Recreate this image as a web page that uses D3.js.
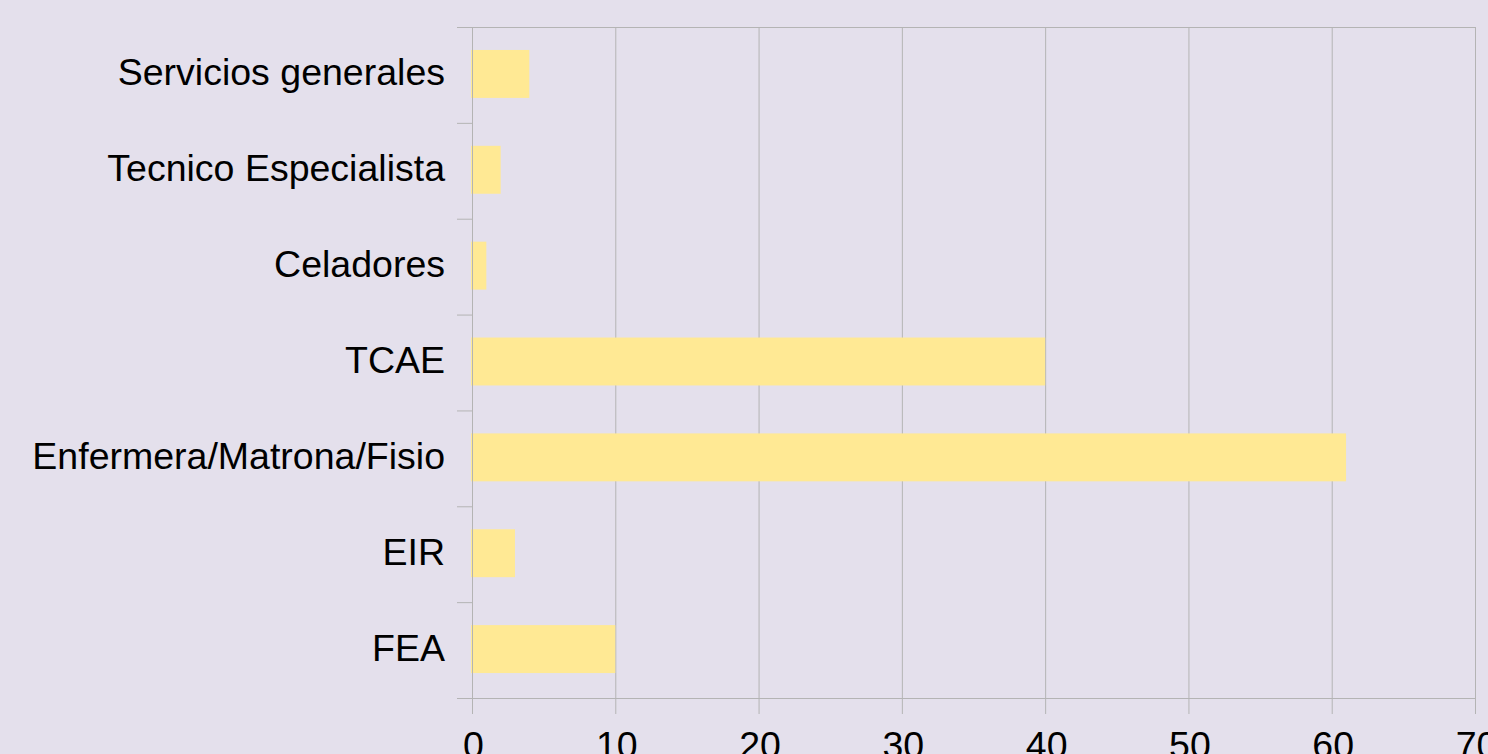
<!DOCTYPE html>
<html>
<head>
<meta charset="utf-8">
<script src="https://d3js.org/d3.v7.min.js"></script>
<style>
  html, body { margin: 0; padding: 0; background: #e4e0ec; overflow: hidden; }
  svg { display: block; }
</style>
</head>
<body>
<svg id="drawing_region"></svg>
<script>
// categories listed from top to bottom
const categories = ['Servicios generales', 'Tecnico Especialista', 'Celadores', 'TCAE',
                    'Enfermera/Matrona/Fisio', 'EIR', 'FEA'];
const values = [4, 2, 1, 40, 61, 3, 10];
const xTicks = [0, 10, 20, 30, 40, 50, 60, 70];

const data = categories.map((c, i) => ({ label: c, value: values[i] }));

const width = 1488, height = 754;
const margin = { top: 27, right: 13, bottom: 56, left: 472 };
const innerW = width - margin.left - margin.right;
const innerH = height - margin.top - margin.bottom;
const gridColor = '#b4b4b4';
const fontFamily = 'Arial, "Liberation Sans", sans-serif';

const svg = d3.select('#drawing_region')
    .attr('width', width)
    .attr('height', height);

svg.append('rect')
    .attr('width', width)
    .attr('height', height)
    .attr('fill', '#e4e0ec');

const chart = svg.append('g')
    .attr('transform', `translate(${margin.left}, ${margin.top})`);

const xscale = d3.scaleLinear()
    .domain([0, 70])
    .range([0, innerW]);

const yscale = d3.scaleBand()
    .domain(categories)
    .range([0, innerH])
    .padding(0);

// vertical grid lines
chart.append('g')
    .selectAll('line')
    .data(xTicks)
    .join('line')
    .attr('x1', d => xscale(d) + 0.5)
    .attr('x2', d => xscale(d) + 0.5)
    .attr('y1', 0)
    .attr('y2', innerH + 16)
    .attr('stroke', gridColor)
    .attr('stroke-width', 1);

// top border
chart.append('line')
    .attr('x1', -15).attr('x2', innerW + 0.5)
    .attr('y1', 0.5).attr('y2', 0.5)
    .attr('stroke', gridColor);

// bars
const barH = yscale.bandwidth() * 0.5;
chart.selectAll('rect.bar')
    .data(data)
    .join('rect')
    .attr('class', 'bar')
    .attr('x', -1)
    .attr('y', d => yscale(d.label) + (yscale.bandwidth() - barH) / 2 - 1)
    .attr('width', d => xscale(d.value) + 1)
    .attr('height', barH)
    .attr('fill', '#ffe994');

// y axis: tick marks at band boundaries
const boundaries = categories.map(c => yscale(c)).concat([innerH]);
chart.append('g')
    .selectAll('line')
    .data(boundaries)
    .join('line')
    .attr('x1', -15).attr('x2', 0)
    .attr('y1', d => d + 0.5).attr('y2', d => d + 0.5)
    .attr('stroke', gridColor);

chart.append('line')
    .attr('x1', 0.5).attr('x2', 0.5)
    .attr('y1', 0).attr('y2', innerH)
    .attr('stroke', gridColor);

const yaxis = d3.axisLeft(yscale).tickSize(0).tickPadding(27);
const yaxis_group = chart.append('g').call(yaxis);
yaxis_group.select('.domain').remove();
yaxis_group.selectAll('text')
    .attr('font-family', fontFamily)
    .attr('font-size', 37.5)
    .attr('fill', '#000')
    .attr('dy', '0.28em');

// x axis
const xaxis = d3.axisBottom(xscale).tickValues(xTicks).tickSize(0).tickPadding(33);
const xaxis_group = chart.append('g')
    .attr('transform', `translate(0, ${innerH})`)
    .call(xaxis);
xaxis_group.select('.domain').remove();
xaxis_group.selectAll('text')
    .attr('font-family', fontFamily)
    .attr('font-size', 37.5)
    .attr('fill', '#000')
    .attr('x', 1)
    .attr('dy', '0.71em');

chart.append('line')
    .attr('x1', -15).attr('x2', innerW + 0.5)
    .attr('y1', innerH + 0.5).attr('y2', innerH + 0.5)
    .attr('stroke', gridColor);
</script>
</body>
</html>
